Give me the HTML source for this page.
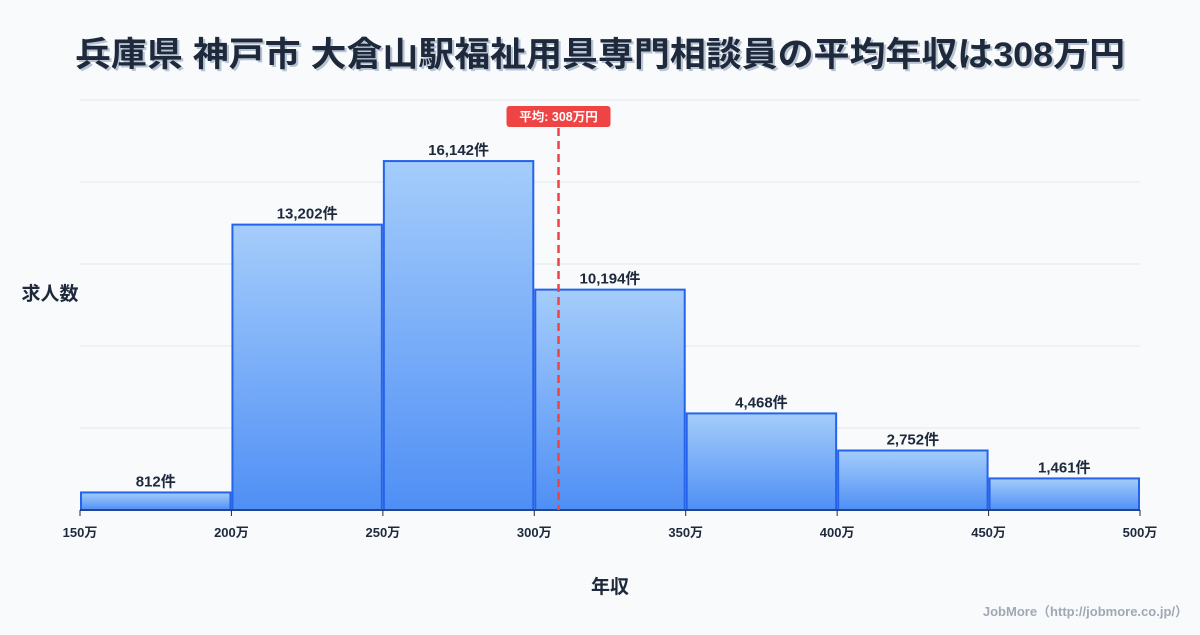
<!DOCTYPE html>
<html><head><meta charset="utf-8"><style>
body{margin:0;width:1200px;height:630px;background:#f8fafc;font-family:"Liberation Sans","Noto Sans CJK JP",sans-serif;overflow:hidden}
</style></head><body>
<svg id="c" width="1200" height="630" xmlns="http://www.w3.org/2000/svg">
<defs><linearGradient id="g" x1="0" y1="0" x2="0" y2="1"><stop offset="0" stop-color="#a5cdfb"/><stop offset="1" stop-color="#4f8ff5"/></linearGradient></defs>
<text x="600" y="66" text-anchor="middle" font-size="34" font-weight="bold" fill="#1e293b" textLength="1050" lengthAdjust="spacingAndGlyphs" style="text-shadow:2px 2px 0 #b8c4d4">兵庫県 神戸市 大倉山駅福祉用具専門相談員の平均年収は308万円</text>
<text x="50" y="300" text-anchor="middle" font-size="19" font-weight="bold" fill="#1e293b">求人数</text>
<text x="610" y="593" text-anchor="middle" font-size="19" font-weight="bold" fill="#1e293b">年収</text>
<text x="1188" y="616" text-anchor="end" font-size="13" font-weight="bold" fill="#a0a8b4">JobMore（http://jobmore.co.jp/）</text>
<g id="grid"></g><g id="bars"></g><g id="ticks"></g><g id="mean"></g>
</svg>
<script>
const bins=[150,200,250,300,350,400,450];
const counts=[812,13202,16142,10194,4468,2752,1461];
const tickLabels=["150万","200万","250万","300万","350万","400万","450万","500万"];
const meanValue=308;
const NS="http://www.w3.org/2000/svg";
const x0=80,x1=1140,yb=510,yt=100;
const ymax=Math.max(...counts)*1.175;
const xs=v=>x0+(v-150)/(500-150)*(x1-x0);
const ys=v=>yb-v/ymax*(yb-yt);
function mk(t,a,p){const e=document.createElementNS(NS,t);for(const k in a)e.setAttribute(k,a[k]);p.appendChild(e);return e;}
const grid=document.getElementById('grid');
for(let i=0;i<=5;i++){const y=yb-i*(yb-yt)/5;const l=mk('line',{x1:x0,x2:x1,y1:y,y2:y,stroke:'#e2e8f0','stroke-width':1},grid);

}
const bars=document.getElementById('bars');
counts.forEach((c,i)=>{const xa=xs(bins[i])+1,xb=xs(bins[i]+50)-1;
const r=mk('rect',{x:xa,y:ys(c),width:xb-xa,height:yb-ys(c),fill:'url(#g)',stroke:'#2563eb','stroke-width':2},bars);


const t=mk('text',{x:(xa+xb)/2,y:ys(c)-6,'text-anchor':'middle','font-size':15,'font-weight':'bold',fill:'#1e293b'},bars);
t.textContent=c.toLocaleString('en-US')+'件';

});
const tk=document.getElementById('ticks');
tickLabels.forEach((s,i)=>{const x=xs(150+i*50);
mk('line',{x1:x,x2:x,y1:yb,y2:yb+6,stroke:'#1e293b'},tk);
const t=mk('text',{x:x,y:537,'text-anchor':'middle','font-size':13,'font-weight':'bold',fill:'#1e293b'},tk);t.textContent=s;

});
mk('line',{x1:x0,x2:x1,y1:yb,y2:yb,stroke:'#1e293b','stroke-width':1},tk);
const m=document.getElementById('mean');const mx=xs(meanValue);
const ml=mk('line',{x1:mx,x2:mx,y1:128,y2:yb,stroke:'#ef4444','stroke-width':2.5,'stroke-dasharray':'8,5'},m);


const mr=mk('rect',{x:mx-52,y:106,width:104,height:21,rx:3,fill:'#ef4444'},m);


const mt=mk('text',{x:mx,y:121,'text-anchor':'middle','font-size':12.5,'font-weight':'bold',fill:'#fff'},m);mt.textContent='平均: '+meanValue+'万円';


</script>
</body></html>
